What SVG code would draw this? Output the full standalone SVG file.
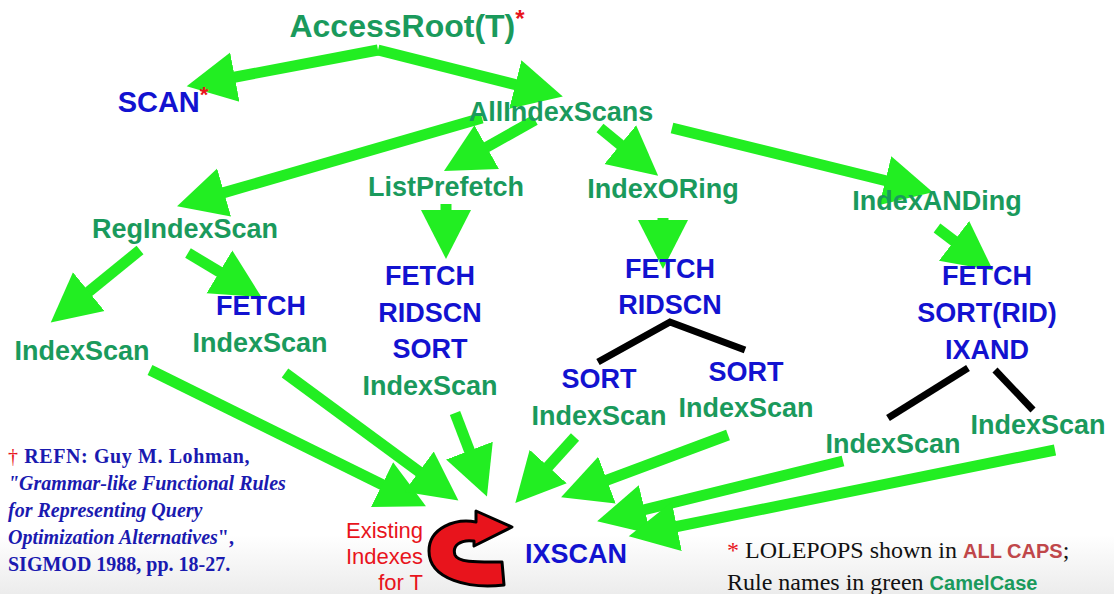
<svg xmlns="http://www.w3.org/2000/svg" width="1114" height="594" viewBox="0 0 1114 594">
<defs>
<linearGradient id="bg" x1="0" y1="0" x2="0" y2="1">
<stop offset="0" stop-color="#ffffff"/>
<stop offset="0.9" stop-color="#ffffff"/>
<stop offset="1" stop-color="#ececec"/>
</linearGradient>
<marker id="ah" markerUnits="userSpaceOnUse" markerWidth="52" markerHeight="52" viewBox="0 0 52 52" refX="10" refY="26" orient="auto">
<path d="M0,1 L49,26 L0,51 Z" fill="#22ee22"/>
</marker>
<style>
.g{font-family:"Liberation Sans",Arial,sans-serif;font-weight:bold;fill:#1a9a5c;font-size:27px;text-anchor:middle}
.b{font-family:"Liberation Sans",Arial,sans-serif;font-weight:bold;fill:#1212d0;font-size:27px;text-anchor:middle}
.r{font-family:"Liberation Sans",Arial,sans-serif;fill:#e8141c;font-size:22px;text-anchor:end}
.ref{font-family:"Liberation Serif","Times New Roman",serif;font-weight:bold;fill:#1a1ab0;font-size:20px}
.note{font-family:"Liberation Serif","Times New Roman",serif;fill:#111;font-size:24px}
.star{fill:#e8141c;font-weight:bold}
.arr line{stroke:#22ee22;stroke-width:11;marker-end:url(#ah)}
.tree line{stroke:#000;stroke-width:7}
</style>
</defs>
<rect width="1114" height="594" fill="url(#bg)"/>

<g id="connectors">
<g class="arr">
<line x1="378" y1="50" x2="225" y2="79"/>
<line x1="378" y1="50" x2="525" y2="87"/>
<line x1="482" y1="118" x2="214.5" y2="195.4"/>
<line x1="535" y1="120" x2="478" y2="152"/>
<line x1="600" y1="128" x2="628" y2="151"/>
<line x1="672" y1="128" x2="895" y2="183"/>
<line x1="446" y1="204" x2="446" y2="220"/>
<line x1="663" y1="218" x2="663" y2="230"/>
<line x1="937" y1="228" x2="962" y2="247"/>
<line x1="140" y1="250" x2="81" y2="298"/>
<line x1="188" y1="253" x2="228" y2="277"/>
<line x1="150" y1="370" x2="391" y2="489"/>
<line x1="285" y1="373" x2="427" y2="477.5"/>
<line x1="455" y1="413" x2="473" y2="460"/>
<line x1="575" y1="437" x2="541.5" y2="474"/>
<line x1="728" y1="435" x2="597.6" y2="483.7"/>
<line x1="843" y1="461" x2="635" y2="512"/>
<line x1="1055" y1="450" x2="667" y2="528.5"/>
</g>
<g class="tree">
<polyline points="598,362 670,322 745,350" fill="none" stroke="#000" stroke-width="7"/>
<line x1="968" y1="368" x2="888" y2="418"/>
<line x1="995" y1="370" x2="1033" y2="410"/>
</g>
</g>

<g id="accessroot"><text class="g" x="407" y="37" style="font-size:32px">AccessRoot(T)<tspan class="star" dy="-10" style="font-size:24px">*</tspan></text></g>
<g id="scan"><text class="b" x="163" y="112" style="font-size:29px">SCAN<tspan class="star" dy="-10" style="font-size:22px">*</tspan></text></g>
<g id="allindexscans"><text class="g" x="561" y="121">AllIndexScans</text></g>
<g id="listprefetch"><text class="g" x="446" y="196">ListPrefetch</text></g>
<g id="indexoring"><text class="g" x="663" y="198">IndexORing</text></g>
<g id="indexanding"><text class="g" x="937" y="210">IndexANDing</text></g>
<g id="regindexscan"><text class="g" x="185" y="238">RegIndexScan</text></g>
<g id="indexscan1"><text class="g" x="82" y="360">IndexScan</text></g>
<g id="fetch-reg"><text class="b" x="261" y="315">FETCH</text><text class="g" x="260" y="352">IndexScan</text></g>
<g id="listprefetch-plan">
<text class="b" x="430" y="285">FETCH</text>
<text class="b" x="430" y="322">RIDSCN</text>
<text class="b" x="430" y="358">SORT</text>
<text class="g" x="430" y="395">IndexScan</text>
</g>
<g id="indexoring-plan">
<text class="b" x="670" y="278">FETCH</text>
<text class="b" x="670" y="314">RIDSCN</text>
</g>
<g id="or-left"><text class="b" x="599" y="388">SORT</text><text class="g" x="599" y="425">IndexScan</text></g>
<g id="or-right"><text class="b" x="746" y="381">SORT</text><text class="g" x="746" y="417">IndexScan</text></g>
<g id="indexanding-plan">
<text class="b" x="987" y="285">FETCH</text>
<text class="b" x="987" y="322">SORT(RID)</text>
<text class="b" x="987" y="359">IXAND</text>
</g>
<g id="and-left"><text class="g" x="893" y="453">IndexScan</text></g>
<g id="and-right"><text class="g" x="1038" y="434">IndexScan</text></g>
<g id="ixscan"><text class="b" x="576" y="563">IXSCAN</text></g>

<g id="existing-indexes">
<text class="r" x="423" y="538">Existing</text>
<text class="r" x="423" y="564">Indexes</text>
<text class="r" x="423" y="590">for T</text>
<path d="M476,522 L476,511 L512,527 L474,546 L474,541 C460,539 452,546 455,555 C458,563 480,562 502,562 L504,585 C470,589 429,580 429,551 C429,528 455,518 476,522 Z" fill="#e8141c" stroke="#000" stroke-width="3" stroke-linejoin="round"/>
</g>

<g id="reference">
<text class="ref" x="8" y="463" letter-spacing="0.6"><tspan fill="#e8141c" font-weight="normal">†</tspan> REFN: Guy M. Lohman,</text>
<text class="ref" x="8" y="490" font-style="italic">"Grammar-like Functional Rules</text>
<text class="ref" x="8" y="517" font-style="italic">for Representing Query</text>
<text class="ref" x="8" y="544"><tspan font-style="italic">Optimization Alternatives</tspan>",</text>
<text class="ref" x="8" y="571">SIGMOD 1988, pp. 18-27.</text>
</g>

<g id="legend">
<text class="note" x="727" y="558"><tspan fill="#e8141c">*</tspan> LOLEPOPS shown in <tspan font-family="Liberation Sans, Arial, sans-serif" font-weight="bold" fill="#c0474a" font-size="20">ALL CAPS</tspan>;</text>
<text class="note" x="727" y="590">Rule names in green <tspan font-family="Liberation Sans, Arial, sans-serif" font-weight="bold" fill="#1a9a5c" font-size="20">CamelCase</tspan></text>
</g>
</svg>
